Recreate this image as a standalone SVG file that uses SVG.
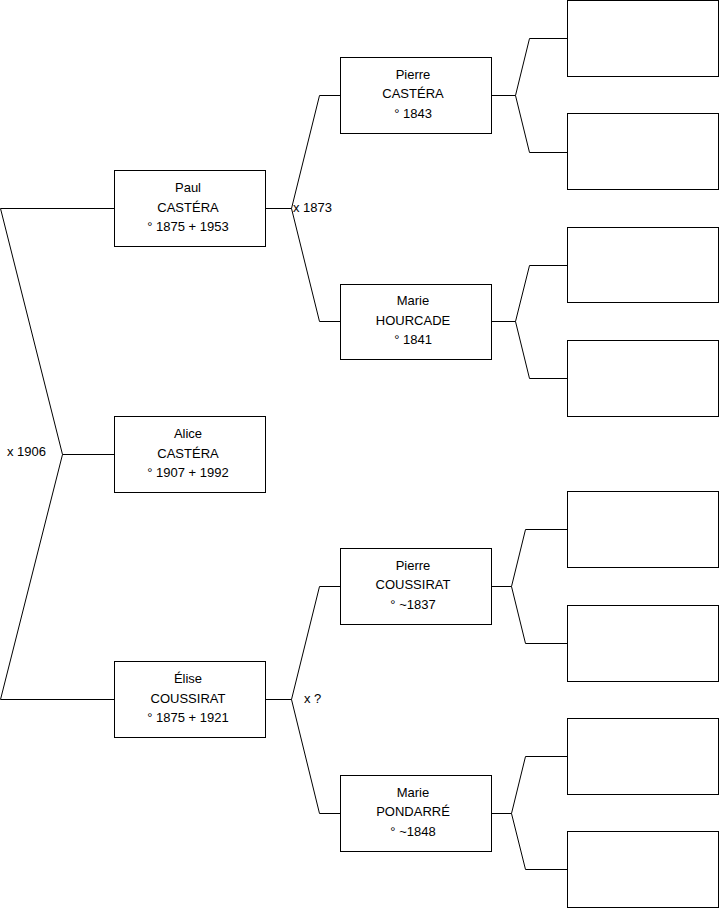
<svg xmlns="http://www.w3.org/2000/svg" width="719" height="908" viewBox="0 0 719 908">
<style>
.box{fill:#fff;stroke:#000;stroke-width:1}
.ln{fill:none;stroke:#000;stroke-width:1}
text{font-family:"Liberation Sans",Arial,sans-serif;font-size:13px;fill:#000}
.c{text-anchor:middle}
</style>
<rect width="719" height="908" fill="#fff"/>
<g id="connectors">
<polyline class="ln" points="114.5,208.5 0.5,208.5 62.5,454.5 0.5,699.5 114.5,699.5"/>
<line class="ln" x1="62.5" y1="454.5" x2="114.5" y2="454.5"/>
<polyline class="ln" points="340.5,95.5 319.5,95.5 291.5,208.5 319.5,321.5 340.5,321.5"/>
<line class="ln" x1="265.5" y1="208.5" x2="291.5" y2="208.5"/>
<polyline class="ln" points="340.5,586.5 319.5,586.5 291.5,699.5 319.5,813.5 340.5,813.5"/>
<line class="ln" x1="265.5" y1="699.5" x2="291.5" y2="699.5"/>
<polyline class="ln" points="567.5,38.5 529.5,38.5 515.5,95.5 529.5,152.5 567.5,152.5"/>
<line class="ln" x1="491.5" y1="95.5" x2="515.5" y2="95.5"/>
<polyline class="ln" points="567.5,265.5 529.5,265.5 515.5,321.5 529.5,378.5 567.5,378.5"/>
<line class="ln" x1="491.5" y1="321.5" x2="515.5" y2="321.5"/>
<polyline class="ln" points="567.5,529.5 525.5,529.5 511.5,586.5 525.5,643.5 567.5,643.5"/>
<line class="ln" x1="491.5" y1="586.5" x2="511.5" y2="586.5"/>
<polyline class="ln" points="567.5,756.5 525.5,756.5 511.5,813.5 525.5,869.5 567.5,869.5"/>
<line class="ln" x1="491.5" y1="813.5" x2="511.5" y2="813.5"/>
<text x="7" y="456">x 1906</text>
<text x="293" y="212">x 1873</text>
<text x="304" y="703">x ?</text>
</g>
<g id="paul"><rect class="box" x="114.5" y="170.5" width="151" height="76"/>
<text class="c" x="188" y="192">Paul</text><text class="c" x="188" y="212">CASTÉRA</text><text class="c" x="188" y="231">° 1875 + 1953</text></g>
<g id="alice"><rect class="box" x="114.5" y="416.5" width="151" height="76"/>
<text class="c" x="188" y="438">Alice</text><text class="c" x="188" y="458">CASTÉRA</text><text class="c" x="188" y="477">° 1907 + 1992</text></g>
<g id="elise"><rect class="box" x="114.5" y="661.5" width="151" height="76"/>
<text class="c" x="188" y="683">Élise</text><text class="c" x="188" y="703">COUSSIRAT</text><text class="c" x="188" y="722">° 1875 + 1921</text></g>
<g id="pierre-castera"><rect class="box" x="340.5" y="57.5" width="151" height="76"/>
<text class="c" x="413" y="79">Pierre</text><text class="c" x="413" y="98">CASTÉRA</text><text class="c" x="413" y="118">° 1843</text></g>
<g id="marie-hourcade"><rect class="box" x="340.5" y="284.5" width="151" height="75"/>
<text class="c" x="413" y="305">Marie</text><text class="c" x="413" y="325">HOURCADE</text><text class="c" x="413" y="344">° 1841</text></g>
<g id="pierre-coussirat"><rect class="box" x="340.5" y="548.5" width="151" height="76"/>
<text class="c" x="413" y="570">Pierre</text><text class="c" x="413" y="589">COUSSIRAT</text><text class="c" x="413" y="609">° ~1837</text></g>
<g id="marie-pondarre"><rect class="box" x="340.5" y="775.5" width="151" height="76"/>
<text class="c" x="413" y="797">Marie</text><text class="c" x="413" y="816">PONDARRÉ</text><text class="c" x="413" y="836">° ~1848</text></g>
<g id="e1"><rect class="box" x="567.5" y="0.5" width="151" height="76"/></g>
<g id="e2"><rect class="box" x="567.5" y="113.5" width="151" height="76"/></g>
<g id="e3"><rect class="box" x="567.5" y="227.5" width="151" height="75"/></g>
<g id="e4"><rect class="box" x="567.5" y="340.5" width="151" height="76"/></g>
<g id="e5"><rect class="box" x="567.5" y="491.5" width="151" height="76"/></g>
<g id="e6"><rect class="box" x="567.5" y="605.5" width="151" height="76"/></g>
<g id="e7"><rect class="box" x="567.5" y="718.5" width="151" height="76"/></g>
<g id="e8"><rect class="box" x="567.5" y="831.5" width="151" height="76"/></g>
</svg>
